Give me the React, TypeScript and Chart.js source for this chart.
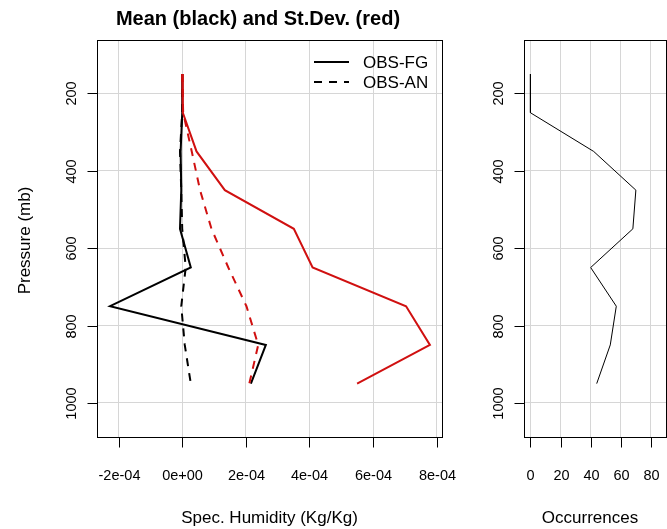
import React, { useEffect, useRef } from "react";
import { Chart, registerables } from "chart.js";

Chart.register(...registerables);

// ---------------- data ----------------
const PRESSURE = [150, 250, 350, 450, 550, 650, 750, 850, 950];
const MEAN_FG = [0, 0, -0.5e-5, -0.3e-5, -0.7e-5, 2.7e-5, -2.27e-4, 2.63e-4, 2.16e-4];
const MEAN_AN = [0, 0, -0.7e-5, -0.3e-5, 0, 1.1e-5, -0.3e-5, 0.8e-5, 2.7e-5];
const SD_FG = [0, 0.2e-5, 4.5e-5, 1.34e-4, 3.51e-4, 4.1e-4, 7.04e-4, 7.79e-4, 5.5e-4];
const SD_AN = [0, 0.3e-5, 3.0e-5, 5.6e-5, 9.2e-5, 1.45e-4, 2.02e-4, 2.39e-4, 2.11e-4];
const OCCURRENCES = [0, 0, 42, 70, 68, 40, 57, 53, 44];

const X_TICKS = [-2e-4, 0, 2e-4, 4e-4, 6e-4, 8e-4];
const X_TICK_LABELS = ["-2e-04", "0e+00", "2e-04", "4e-04", "6e-04", "8e-04"];
const Y_TICKS = [200, 400, 600, 800, 1000];
const Y_TICK_LABELS = ["200", "400", "600", "800", "1000"];
const OCC_TICKS = [0, 20, 40, 60, 80];
const OCC_TICK_LABELS = ["0", "20", "40", "60", "80"];

const TITLE = "Mean (black) and St.Dev. (red)";
const X_TITLE = "Spec. Humidity (Kg/Kg)";
const Y_TITLE = "Pressure (mb)";
const OCC_TITLE = "Occurrences";
const LEGEND_LABELS = ["OBS-FG", "OBS-AN"];

// ---------------- style ----------------
const FONT = '"Liberation Sans", Arial, Helvetica, sans-serif';
const RED = "#d01010";
const GRID = "#d6d6d6";
const DASH = [8, 7];

const toPts = (xs: number[]) => xs.map((v, i) => ({ x: v, y: PRESSURE[i] }));

function text(
  ctx: CanvasRenderingContext2D,
  s: string,
  x: number,
  y: number,
  font: string,
  align: CanvasTextAlign = "center",
  rot = 0,
  baseline: CanvasTextBaseline = "alphabetic"
) {
  ctx.save();
  ctx.translate(x, y);
  ctx.rotate(rot);
  ctx.font = font;
  ctx.fillStyle = "#000";
  ctx.textAlign = align;
  ctx.textBaseline = baseline;
  ctx.fillText(s, 0, 0);
  ctx.restore();
}

function makeAxes(opts: {
  xTicks: number[];
  xLabels: string[];
  xTitle: string;
  xTitleX?: number;
  yTitle?: string;
  title?: string;
  legend?: boolean;
}) {
  return {
    id: "rAxes",
    afterDraw(chart: any) {
      const { ctx, chartArea: a, scales } = chart;
      const x = scales.x;
      const y = scales.y;
      ctx.save();
      ctx.strokeStyle = "#000";
      ctx.lineWidth = 1;
      ctx.setLineDash([]);
      const L = Math.round(a.left) + 0.5;
      const R = Math.round(a.right) + 0.5;
      const T = Math.round(a.top) + 0.5;
      const B = Math.round(a.bottom) + 0.5;
      ctx.strokeRect(L, T, R - L, B - T);
      // x ticks
      opts.xTicks.forEach((v, i) => {
        const px = Math.round(x.getPixelForValue(v)) + 0.5;
        ctx.beginPath();
        ctx.moveTo(px, B);
        ctx.lineTo(px, B + 10);
        ctx.stroke();
        text(ctx, opts.xLabels[i], px, B + 42, `14.5px ${FONT}`);
      });
      // y ticks
      Y_TICKS.forEach((v, i) => {
        const py = Math.round(y.getPixelForValue(v)) + 0.5;
        ctx.beginPath();
        ctx.moveTo(L, py);
        ctx.lineTo(L - 10, py);
        ctx.stroke();
        text(ctx, Y_TICK_LABELS[i], L - 22, py, `14.5px ${FONT}`, "center", -Math.PI / 2);
      });
      const cx = opts.xTitleX ?? (a.left + a.right) / 2;
      text(ctx, opts.xTitle, cx, 523, `17px ${FONT}`);
      if (opts.yTitle) {
        text(ctx, opts.yTitle, 30, (a.top + a.bottom) / 2 + 2, `17px ${FONT}`, "center", -Math.PI / 2);
      }
      if (opts.title) {
        text(ctx, opts.title, 258, 25, `bold 20px ${FONT}`);
      }
      if (opts.legend) {
        const rows = [62, 82];
        rows.forEach((ly, i) => {
          ctx.save();
          ctx.strokeStyle = "#000";
          ctx.lineWidth = 2;
          ctx.setLineDash(i === 1 ? DASH : []);
          ctx.beginPath();
          ctx.moveTo(314, ly);
          ctx.lineTo(349, ly);
          ctx.stroke();
          ctx.restore();
          text(ctx, LEGEND_LABELS[i], 363, ly + 6, `17px ${FONT}`, "left");
        });
      }
      ctx.restore();
    },
  };
}

function scaleCfg(min: number, max: number, ticks: number[], horizontal: boolean, reverse = false) {
  return {
    type: "linear",
    min,
    max,
    reverse,
    ticks: { display: false },
    grid: { color: GRID, lineWidth: 1, drawTicks: false },
    border: { display: false },
    afterBuildTicks: (s: any) => {
      s.ticks = ticks.map((v) => ({ value: v }));
    },
    afterFit: (s: any) => {
      if (horizontal) s.height = 0;
      else s.width = 0;
    },
  };
}

export default function App() {
  const leftRef = useRef<HTMLCanvasElement>(null);
  const rightRef = useRef<HTMLCanvasElement>(null);

  useEffect(() => {
    const common = {
      responsive: false,
      animation: false,
      devicePixelRatio: 1,
      plugins: { legend: { display: false }, tooltip: { enabled: false }, title: { display: false } },
      elements: { point: { radius: 0 }, line: { tension: 0 } },
    };

    const left = new Chart(leftRef.current!, {
      type: "scatter",
      data: {
        datasets: [
          { data: toPts(SD_AN), borderColor: RED, borderWidth: 2, borderDash: DASH, showLine: true, pointRadius: 0 },
          { data: toPts(SD_FG), borderColor: RED, borderWidth: 2, showLine: true, pointRadius: 0 },
          { data: toPts(MEAN_AN), borderColor: "#000", borderWidth: 2, borderDash: DASH, showLine: true, pointRadius: 0 },
          { data: toPts(MEAN_FG), borderColor: "#000", borderWidth: 2, showLine: true, pointRadius: 0 },
        ],
      },
      options: {
        ...common,
        layout: { padding: { left: 97, top: 40, right: 28, bottom: 92 } },
        scales: {
          x: scaleCfg(-2.68e-4, 8.17e-4, X_TICKS, true),
          y: scaleCfg(62, 1088, Y_TICKS, false, true),
        },
      } as any,
      plugins: [
        makeAxes({
          xTicks: X_TICKS,
          xLabels: X_TICK_LABELS,
          xTitle: X_TITLE,
          yTitle: Y_TITLE,
          title: TITLE,
          legend: true,
        }),
      ],
    });

    const right = new Chart(rightRef.current!, {
      type: "scatter",
      data: {
        datasets: [
          {
            data: OCCURRENCES.map((v, i) => ({ x: v, y: PRESSURE[i] })),
            borderColor: "#000",
            borderWidth: 1,
            showLine: true,
            pointRadius: 0,
          },
        ],
      },
      options: {
        ...common,
        layout: { padding: { left: 54, top: 40, right: 1, bottom: 92 } },
        scales: {
          x: scaleCfg(-4.27, 90, OCC_TICKS, true),
          y: scaleCfg(62, 1088, Y_TICKS, false, true),
        },
      } as any,
      plugins: [
        makeAxes({
          xTicks: OCC_TICKS,
          xLabels: OCC_TICK_LABELS,
          xTitle: OCC_TITLE,
          xTitleX: 120,
        }),
      ],
    });

    return () => {
      left.destroy();
      right.destroy();
    };
  }, []);

  return (
    <div style={{ position: "absolute", left: 0, top: 0, width: 667, height: 529, background: "#fff" }}>
      <canvas ref={leftRef} width={470} height={529} style={{ position: "absolute", left: 0, top: 0 }} />
      <canvas ref={rightRef} width={197} height={529} style={{ position: "absolute", left: 470, top: 0 }} />
    </div>
  );
}
